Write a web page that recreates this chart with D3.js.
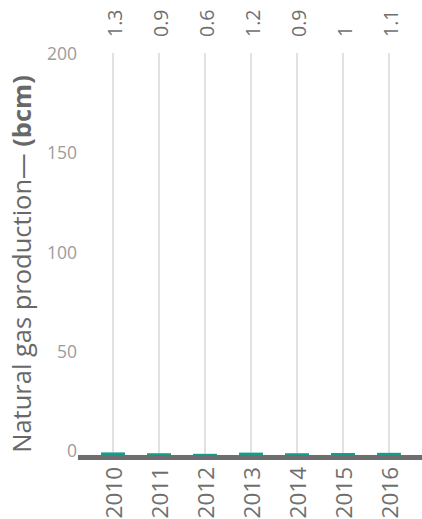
<!DOCTYPE html>
<html>
<head>
<meta charset="utf-8">
<script src="https://cdn.jsdelivr.net/npm/d3@7"></script>
<style>
  html, body { margin: 0; padding: 0; background: #fff; }
  svg { display: block; font-family: "Open Sans", "Noto Sans", sans-serif; }
</style>
</head>
<body>
<svg id="chart" width="422" height="519"></svg>
<script>
// Annual natural gas production, billion cubic metres
const years = ["2010", "2011", "2012", "2013", "2014", "2015", "2016"];
const production = [1.3, 0.9, 0.6, 1.2, 0.9, 1, 1.1];
const valueLabels = ["1.3", "0.9", "0.6", "1.2", "0.9", "1", "1.1"];
const yTicks = [0, 50, 100, 150, 200];

const svg = d3.select("#chart");

const x = d3.scaleBand()
  .domain(years)
  .range([90, 412])
  .paddingInner(0.48)
  .paddingOuter(0.24);

const y = d3.scaleLinear()
  .domain([0, 200])
  .range([455, 58]);

const cx = d => x(d) + x.bandwidth() / 2;

// vertical guide per year, from the top of the plot down to the bar
svg.append("g")
  .selectAll("line")
  .data(years)
  .join("line")
  .attr("x1", d => cx(d))
  .attr("x2", d => cx(d))
  .attr("y1", 53)
  .attr("y2", (d, i) => y(production[i]))
  .attr("stroke", "#c4c4c4")
  .attr("stroke-width", 1);

// y-axis tick labels
const yAxis = d3.axisLeft(y).tickValues(yTicks).tickSize(0).tickPadding(0);
const yg = svg.append("g").attr("transform", "translate(77,-4)").call(yAxis);
yg.select(".domain").remove();
yg.selectAll("text")
  .attr("fill", "#9c9c9c")
  .attr("font-size", 17.5)
  .attr("font-family", "'Open Sans', sans-serif");

// bars
svg.append("g")
  .selectAll("rect")
  .data(years)
  .join("rect")
  .attr("x", d => x(d))
  .attr("width", x.bandwidth())
  .attr("y", (d, i) => y(production[i]))
  .attr("height", (d, i) => y(0) - y(production[i]))
  .attr("fill", "#169c8d");

// baseline
svg.append("line")
  .attr("x1", 78)
  .attr("x2", 422)
  .attr("y1", y(0) + 2.5)
  .attr("y2", y(0) + 2.5)
  .attr("stroke", "#6e6e6e")
  .attr("stroke-width", 5);

// x-axis year labels, rotated
const xAxis = d3.axisBottom(x).tickSize(0).tickPadding(0);
const xg = svg.append("g").attr("transform", "translate(0,467)").call(xAxis);
xg.select(".domain").remove();
xg.selectAll("text")
  .attr("transform", "rotate(-90)")
  .attr("text-anchor", "end")
  .attr("x", 0)
  .attr("y", 0)
  .attr("dy", "0.38em")
  .attr("fill", "#6f6f6f")
  .attr("font-size", 22.5)
  .attr("font-family", "'Open Sans', sans-serif");

// value labels above each column
svg.append("g")
  .selectAll("text")
  .data(years)
  .join("text")
  .attr("transform", d => `translate(${cx(d)},37) rotate(-90)`)
  .attr("text-anchor", "start")
  .attr("dy", "0.45em")
  .attr("fill", "#6f6f6f")
  .attr("font-size", 19.5)
  .text((d, i) => valueLabels[i]);

// y-axis title
const title = svg.append("text")
  .attr("transform", "translate(22,264) rotate(-90)")
  .attr("text-anchor", "middle")
  .attr("dy", "0.36em")
  .attr("fill", "#686868")
  .attr("font-size", 25.5);
title.append("tspan").text("Natural gas production— ");
title.append("tspan").attr("font-weight", "bold").text("(bcm)");
</script>
</body>
</html>
